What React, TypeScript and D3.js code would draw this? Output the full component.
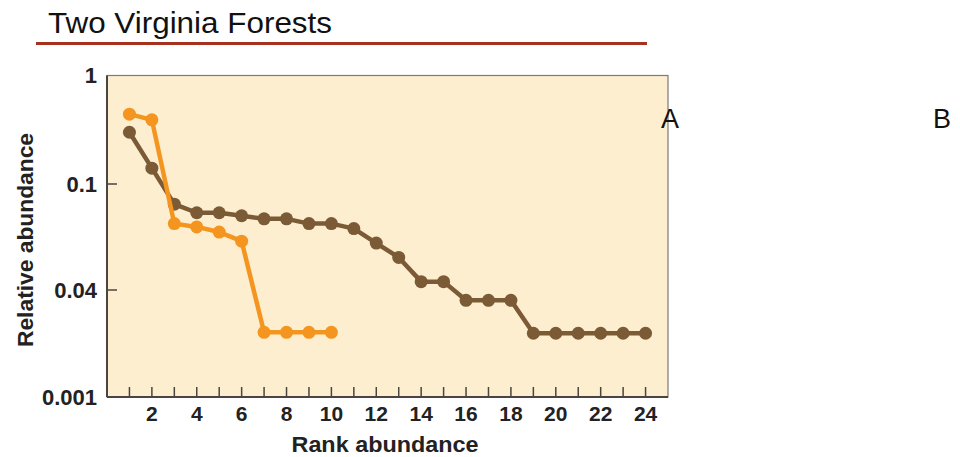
import React from "react";
import * as d3 from "d3";

const ranksA = d3.range(1, 25);
const forestA = [0.30, 0.14, 0.084, 0.078, 0.078, 0.076, 0.074, 0.074, 0.071, 0.071, 0.068, 0.06, 0.053, 0.043, 0.043, 0.028, 0.028, 0.028, 0.009, 0.009, 0.009, 0.009, 0.009, 0.009];
const ranksB = d3.range(1, 11);
const forestB = [0.44, 0.39, 0.071, 0.069, 0.066, 0.061, 0.0093, 0.0093, 0.0093, 0.0093];
const yTickValues = [0.001, 0.04, 0.1, 1];
const yTickLabels = ["0.001", "0.04", "0.1", "1"];
const xTickValues = d3.range(1, 25);
const xLabelValues = d3.range(2, 25, 2);

const W = 960, H = 457;
const L = 107, R = 668, T = 75.5, B = 397;

export default function App() {
  const x = d3.scaleLinear().domain([0, 25]).range([L, R]);
  const yLog = d3
    .scaleLinear()
    .domain(yTickValues.map((v) => Math.log10(v)))
    .range([B, 290, 184, T]);
  const y = (v: number) => yLog(Math.log10(v));
  const line = d3
    .line<[number, number]>()
    .x((d) => x(d[0]))
    .y((d) => y(d[1]));
  const dA: [number, number][] = ranksA.map((r, i) => [r, forestA[i]]);
  const dB: [number, number][] = ranksB.map((r, i) => [r, forestB[i]]);
  const brown = "#7b5a36";
  const orange = "#f4951f";
  const font = "Liberation Sans, Arial, Helvetica, sans-serif";
  return (
    <svg width={W} height={H} style={{ position: "absolute", left: 0, top: 0 }} fontFamily={font}>
      <rect width={W} height={H} fill="#fff" />
      <text x={48} y={33} fontSize={30} fill="#111" textLength={284} lengthAdjust="spacingAndGlyphs">Two Virginia Forests</text>
      <line x1={36} x2={647} y1={43.5} y2={43.5} stroke="#a8301f" strokeWidth={3} />
      <rect x={L} y={T} width={R - L} height={B - T} fill="#fdeed0" stroke="#7a7a7a" strokeWidth={1.2} />
      <line x1={L} x2={L} y1={T} y2={B} stroke="#4a4540" strokeWidth={2} />
      <line x1={L} x2={R} y1={B} y2={B} stroke="#4a4540" strokeWidth={2} />
      {yTickValues.map((v, i) => (
        <g key={v}>
          {i > 0 && i < 3 && <line x1={L} x2={L + 10} y1={y(v)} y2={y(v)} stroke="#4a4540" strokeWidth={1.5} />}
          <text x={L - 10} y={y(v)} dy="0.36em" textAnchor="end" fontSize={22} fontWeight="bold" fill="#222">
            {yTickLabels[i]}
          </text>
        </g>
      ))}
      {xTickValues.map((v) => (
        <line key={v} x1={x(v)} x2={x(v)} y1={B} y2={B - 10} stroke="#4a4540" strokeWidth={1.5} />
      ))}
      {xLabelValues.map((v) => (
        <text key={v} x={x(v)} y={B + 24} textAnchor="middle" fontSize={21} fontWeight="bold" fill="#222">
          {v}
        </text>
      ))}
      <text x={385} y={452} textAnchor="middle" fontSize={22} fontWeight="bold" fill="#222" textLength={187} lengthAdjust="spacingAndGlyphs">Rank abundance</text>
      <text transform={`translate(33,${240}) rotate(-90)`} textAnchor="middle" fontSize={22} fontWeight="bold" fill="#222" textLength={214} lengthAdjust="spacingAndGlyphs">
        Relative abundance
      </text>
      <path d={line(dA) || ""} fill="none" stroke={brown} strokeWidth={4.5} strokeLinejoin="round" />
      {dA.map((d, i) => (
        <circle key={"a" + i} cx={x(d[0])} cy={y(d[1])} r={6.5} fill={brown} />
      ))}
      <path d={line(dB) || ""} fill="none" stroke={orange} strokeWidth={4.5} strokeLinejoin="round" />
      {dB.map((d, i) => (
        <circle key={"b" + i} cx={x(d[0])} cy={y(d[1])} r={6.5} fill={orange} />
      ))}
      <text x={661} y={128} fontSize={27} fill="#111">A</text>
      <text x={933} y={128} fontSize={27} fill="#111">B</text>
    </svg>
  );
}
